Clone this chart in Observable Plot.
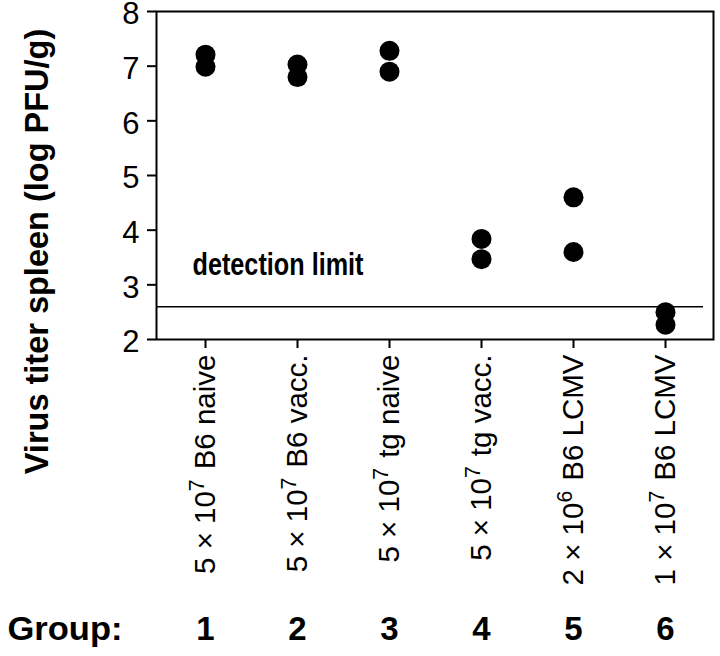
<!DOCTYPE html>
<html><head><meta charset="utf-8">
<script src="https://cdn.jsdelivr.net/npm/d3@7"></script>
<script src="https://cdn.jsdelivr.net/npm/@observablehq/plot@0.6"></script>
<style>body{margin:0;background:#fff;}</style>
</head><body><div id="chart"></div>
<script>
const groupNums = ["1", "2", "3", "4", "5", "6"];
const doses = ["5 × 10", "5 × 10", "5 × 10", "5 × 10", "2 × 10", "1 × 10"];
const exponents = ["7", "7", "7", "7", "6", "7"];
const hosts = ["B6 naive", "B6 vacc.", "tg naive", "tg vacc.", "B6 LCMV", "B6 LCMV"];
const titerHigh = [7.21, 7.03, 7.28, 3.84, 4.60, 2.50];
const titerLow = [6.99, 6.80, 6.90, 3.47, 3.60, 2.27];
const detectionLimit = 2.6;
const yTicks = [2, 3, 4, 5, 6, 7, 8];
const yTitle = "Virus titer spleen (log PFU/g)";
const groupWord = "Group:";
const limitLabel = "detection limit";

const points = groupNums.flatMap((g, i) => [
  {group: g, titer: titerHigh[i]},
  {group: g, titer: titerLow[i]}
]);

const chart = Plot.plot({
  width: 720, height: 656,
  marginLeft: 156, marginRight: 7, marginTop: 11, marginBottom: 317,
  style: {fontFamily: "'Liberation Sans', Arial, Helvetica, sans-serif", color: "#000", background: "#fff"},
  x: {type: "point", domain: groupNums, padding: 0.5},
  y: {domain: [2, 8]},
  marks: [
    Plot.ruleY([detectionLimit], {stroke: "#000", strokeWidth: 1.6, insetRight: 10}),
    Plot.dot(points, {x: "group", y: "titer", r: 10, fill: "#000", stroke: null}),
    Plot.frame({stroke: "#000", strokeWidth: 2}),
    Plot.axisY({ticks: yTicks, tickFormat: "d", tickSize: 9, tickPadding: 8, fontSize: 31, label: null, strokeWidth: 2}),
    Plot.axisX({tickSize: 9, tickPadding: 6, tickRotate: -90, fontSize: 29.5, label: null, strokeWidth: 2,
      tickFormat: g => { const i = groupNums.indexOf(g); return doses[i] + exponents[i] + " " + hosts[i]; }}),
    Plot.text([{group: groupNums[0], text: limitLabel}], {x: "group", y: () => 3.37, text: "text",
      textAnchor: "start", dx: -13, fontSize: 32, fontWeight: "bold"}),
    Plot.text([yTitle], {frameAnchor: "left", rotate: -90, dx: -119, dy: 76, fontSize: 32.5, fontWeight: "bold", textAnchor: "middle"}),
    Plot.text(groupNums, {x: d => d, text: d => d, frameAnchor: "bottom", dy: 300, fontSize: 33, fontWeight: "bold"}),
    Plot.text([groupWord], {frameAnchor: "bottom-left", textAnchor: "start", dx: -149, dy: 300, fontSize: 33, fontWeight: "bold"})
  ]
});

const svg = d3.select(chart);
svg.selectAll('g[aria-label="y-axis tick label"]').each(function() {
  const g = d3.select(this);
  g.attr("transform", ((g.attr("transform") || "") + " translate(0,3)").trim());
});
svg.selectAll('g[aria-label="x-axis tick label"] text').each(function(_, i) {
  const t = d3.select(this);
  t.text(null);
  t.append("tspan").text(doses[i]);
  t.append("tspan").attr("dy", -11).attr("font-size", "0.72em").text(exponents[i]);
  t.append("tspan").attr("dy", 11).attr("dx", 10).text(hosts[i]);
});
svg.selectAll("text").filter(function() { return this.textContent === limitLabel; })
  .attr("textLength", 171).attr("lengthAdjust", "spacingAndGlyphs");
svg.selectAll("text").filter(function() { return this.textContent === groupWord; })
  .attr("textLength", 115).attr("lengthAdjust", "spacingAndGlyphs");

document.getElementById("chart").appendChild(chart);
</script>
</body></html>
